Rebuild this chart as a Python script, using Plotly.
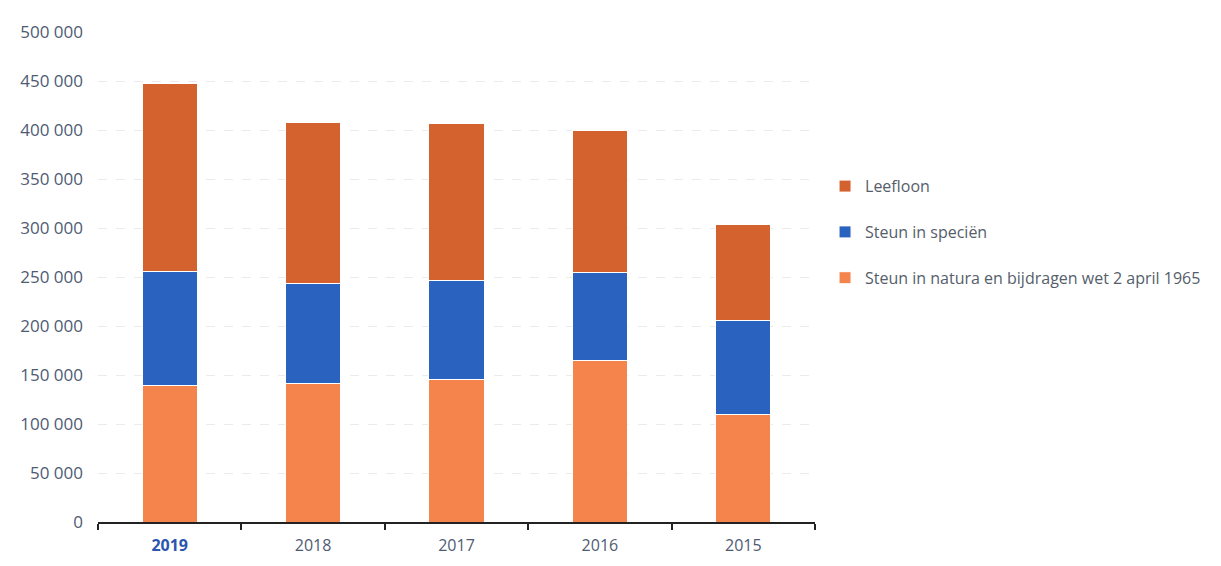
import plotly.graph_objects as go

years = ["2019", "2018", "2017", "2016", "2015"]
natura = [139000, 141000, 145000, 165000, 110000]
specien = [117000, 102000, 101000, 90000, 96000]
leefloon = [191000, 165000, 160500, 144000, 98000]

series_names = ["Steun in natura en bijdragen wet 2 april 1965", "Steun in speciën", "Leefloon"]
series_colors = ["#f5844c", "#2a62c0", "#d4622e"]
legend_ranks = [3, 2, 1]

ytick_vals = [0, 50000, 100000, 150000, 200000, 250000, 300000, 350000, 400000, 450000, 500000]
ytick_text = ["0", "50 000", "100 000", "150 000", "200 000", "250 000", "300 000",
              "350 000", "400 000", "450 000", "500 000"]
xtick_text = ["<b><span style='color:#2a55b0'>2019</span></b>", "2018", "2017", "2016", "2015"]

fig = go.Figure()
for name, vals, col, rk in zip(series_names, [natura, specien, leefloon], series_colors, legend_ranks):
    fig.add_trace(go.Bar(
        x=years, y=vals, name=name, legendgroup=name, legendrank=rk,
        marker=dict(color=col, line=dict(color="white", width=1)),
    ))

fig.update_layout(
    barmode="stack",
    bargap=0.615,
    width=1221, height=566,
    margin=dict(l=90, r=414, t=22, b=52),
    paper_bgcolor="white", plot_bgcolor="white",
    font=dict(family="Open Sans, Liberation Sans, sans-serif", size=16, color="#4e5b73"),
    legend=dict(
        traceorder="grouped",
        x=1.014, y=0.72, xanchor="left", yanchor="top",
        font=dict(size=16, color="#555e6a"),
        tracegroupgap=22,
        itemwidth=30,
    ),
    showlegend=True,
)
fig.update_xaxes(
    type="category", categoryorder="array", categoryarray=years,
    tickvals=years, ticktext=xtick_text,
    showline=True, linecolor="#222222", linewidth=2,
    ticks="outside", tickson="boundaries", ticklen=6, tickcolor="#222222", tickwidth=2,
    showgrid=False,
    tickfont=dict(size=16, color="#4e5b73"),
    ticklabelstandoff=8,
)
fig.update_yaxes(
    range=[0, 500000],
    tickvals=ytick_vals, ticktext=ytick_text,
    showgrid=True, gridcolor="#ebebeb", gridwidth=1, griddash="dash",
    zeroline=False, showline=False,
    tickfont=dict(size=17, color="#4e5b73"),
    ticklabelstandoff=14,
)

fig.write_html("out.html")
